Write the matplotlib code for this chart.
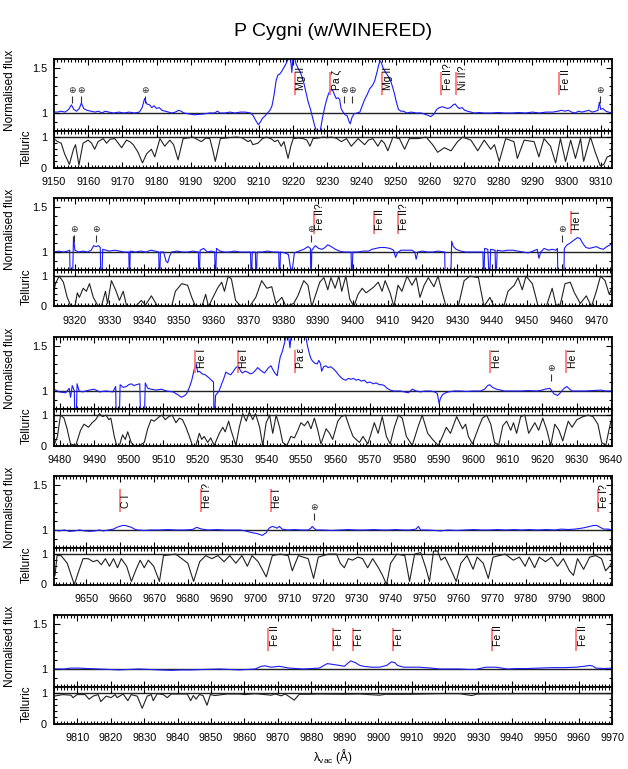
import matplotlib
matplotlib.use('Agg')
import matplotlib.pyplot as plt
from matplotlib.ticker import MultipleLocator

plt.rcParams['font.family'] = ['Liberation Sans', 'DejaVu Sans']
plt.rcParams['mathtext.fontset'] = 'custom'
plt.rcParams['mathtext.rm'] = 'Liberation Sans'

# wavelength ranges of the five rows (Angstrom, vacuum)
ranges = [(9150.0, 9313.3), (9314.1, 9474.5), (9478.3, 9640.3), (9640.4, 9805.5), (9803.0, 9970.0)]

# (wavelength, normalised flux)
p1_flux = [(9149.7, 1.01), (9151.0, 1.01), (9152.0, 1.02), (9153.2, 1.01), (9154.3, 1.04), (9155.1, 1.09),
           (9155.8, 1.04), (9156.6, 1.02), (9157.4, 1.05), (9158.0, 1.11), (9158.7, 1.05), (9159.6, 1.03),
           (9160.8, 1.02), (9162.0, 1.01), (9163.0, 1.02), (9164.0, 1.0), (9165.0, 1.02), (9166.0, 1.01),
           (9167.5, 1.0), (9169.0, 1.01), (9170.5, 1.0), (9172.0, 1.01), (9173.5, 1.0), (9175.0, 1.01),
           (9175.8, 1.06), (9176.5, 1.16), (9177.2, 1.10), (9178.0, 1.09), (9178.6, 1.06), (9179.3, 1.08),
           (9180.0, 1.05), (9180.8, 1.06), (9181.6, 1.03), (9182.5, 1.02), (9183.5, 1.01), (9184.5, 1.0),
           (9185.5, 1.01), (9186.5, 1.03), (9187.2, 1.02), (9188.0, 1.0), (9189.5, 0.99), (9191.0, 0.98),
           (9192.5, 0.985), (9194.0, 0.99), (9195.5, 1.0), (9197.0, 1.0), (9197.8, 1.02), (9198.6, 1.0),
           (9200.0, 1.0), (9201.5, 1.01), (9203.0, 1.0), (9204.5, 1.01), (9206.0, 1.01), (9207.5, 1.0),
           (9208.3, 0.97), (9209.0, 0.92), (9209.8, 0.87), (9210.4, 0.9), (9211.0, 0.94), (9211.8, 0.97),
           (9212.5, 1.0), (9213.2, 1.03), (9213.8, 1.08), (9214.4, 1.2), (9215.0, 1.36), (9215.5, 1.42),
           (9216.0, 1.43), (9216.6, 1.46), (9217.2, 1.5), (9217.8, 1.54), (9218.3, 1.58), (9218.8, 1.63),
           (9219.2, 1.62), (9219.6, 1.45), (9219.9, 1.6), (9220.3, 1.63), (9220.8, 1.55), (9221.4, 1.5),
           (9222.0, 1.46), (9222.6, 1.4), (9223.2, 1.32), (9223.8, 1.22), (9224.4, 1.12), (9225.0, 1.05),
           (9225.6, 0.96), (9226.2, 0.87), (9226.8, 0.8), (9227.4, 0.76), (9228.0, 0.82), (9228.6, 0.95),
           (9229.2, 1.06), (9229.8, 1.15), (9230.4, 1.22), (9231.0, 1.26), (9231.6, 1.25), (9232.1, 1.2),
           (9232.6, 1.16), (9233.1, 1.17), (9233.6, 1.15), (9234.0, 1.05), (9234.6, 1.01), (9235.2, 0.98),
           (9235.8, 0.97), (9236.3, 0.91), (9236.7, 0.88), (9237.2, 0.95), (9237.8, 0.99), (9238.6, 1.0),
           (9239.5, 1.01), (9240.2, 1.08), (9240.9, 1.15), (9241.6, 1.2), (9242.4, 1.27), (9243.1, 1.3),
           (9243.8, 1.35), (9244.5, 1.45), (9245.0, 1.53), (9245.4, 1.58), (9245.8, 1.56), (9246.3, 1.5),
           (9246.9, 1.46), (9247.6, 1.42), (9248.3, 1.38), (9249.0, 1.3), (9249.6, 1.22), (9250.2, 1.12),
           (9250.8, 1.04), (9251.5, 1.02), (9252.3, 1.02), (9253.2, 1.0), (9254.5, 1.01), (9256.0, 1.0),
           (9257.5, 1.0), (9259.0, 0.98), (9260.3, 0.96), (9261.2, 0.99), (9262.0, 1.04), (9262.8, 1.06),
           (9263.6, 1.07), (9264.4, 1.06), (9265.2, 1.05), (9266.0, 1.06), (9266.8, 1.09), (9267.4, 1.1),
           (9268.0, 1.07), (9268.6, 1.05), (9269.4, 1.06), (9270.2, 1.03), (9271.0, 1.02), (9272.0, 1.01),
           (9273.0, 1.0), (9274.5, 1.005), (9276.0, 1.0), (9278.0, 1.0), (9280.0, 1.005), (9282.0, 1.0),
           (9284.0, 1.0), (9286.0, 1.005), (9288.0, 1.0), (9290.0, 1.01), (9292.0, 1.0), (9294.0, 1.01),
           (9296.0, 1.01), (9297.5, 1.02), (9298.5, 1.03), (9299.5, 1.02), (9300.5, 1.03), (9301.5, 1.01),
           (9302.5, 1.0), (9303.5, 1.02), (9304.5, 1.01), (9305.5, 1.02), (9306.5, 1.03), (9307.5, 1.01),
           (9308.5, 1.02), (9309.2, 1.03), (9309.6, 1.12), (9310.0, 1.04), (9310.6, 1.05), (9311.5, 1.02),
           (9312.3, 1.01), (9313.3, 1.0)]

p2_flux = [(9314.1, 1.0), (9315.5, 1.01), (9316.8, 1.0), (9318.0, 1.01), (9318.6, 1.02), (9318.8, 0.6),
           (9319.4, 0.6), (9319.7, 1.17), (9320.1, 1.02), (9321.2, 1.0), (9322.5, 1.01), (9323.7, 1.0),
           (9324.8, 1.02), (9325.5, 1.07), (9326.2, 1.06), (9326.9, 1.07), (9327.4, 1.05), (9327.6, 0.6),
           (9327.8, 0.6), (9328.1, 1.03), (9329.0, 1.02), (9330.0, 1.01), (9331.5, 1.02), (9332.9, 1.01),
           (9334.3, 1.0), (9335.6, 1.0), (9335.8, 0.6), (9336.0, 1.01), (9337.5, 1.0), (9339.0, 1.01),
           (9340.5, 1.0), (9342.0, 1.02), (9343.2, 1.01), (9344.2, 1.0), (9344.4, 0.6), (9344.7, 1.0),
           (9345.6, 1.0), (9346.3, 0.9), (9346.8, 0.88), (9347.3, 0.95), (9347.9, 1.0), (9349.5, 1.01),
           (9351.0, 1.0), (9352.5, 1.0), (9354.0, 1.01), (9355.6, 1.0), (9355.8, 0.6), (9356.1, 1.02),
           (9357.1, 1.04), (9358.2, 1.0), (9359.3, 1.01), (9360.3, 1.0), (9360.5, 0.6), (9360.8, 1.04),
           (9361.8, 1.01), (9363.0, 1.0), (9364.5, 1.0), (9366.0, 1.01), (9367.5, 1.0), (9369.0, 1.0),
           (9370.6, 1.0), (9370.8, 0.6), (9371.1, 1.0), (9372.0, 1.0), (9372.2, 0.6), (9372.5, 1.0),
           (9374.0, 1.0), (9375.5, 1.01), (9377.0, 1.0), (9378.7, 1.0), (9378.9, 0.6), (9379.2, 1.0),
           (9380.5, 0.99), (9381.5, 0.97), (9382.1, 0.82), (9382.6, 0.8), (9383.2, 0.99), (9384.5, 1.01),
           (9385.9, 1.03), (9387.1, 1.06), (9387.8, 1.04), (9388.0, 0.6), (9388.2, 1.02), (9389.2, 1.07),
           (9390.2, 1.04), (9391.2, 1.03), (9392.0, 1.05), (9392.8, 1.08), (9393.8, 1.06), (9395.0, 1.03),
           (9396.2, 1.01), (9397.4, 1.0), (9398.5, 1.0), (9399.5, 1.0), (9399.7, 0.6), (9400.0, 1.0),
           (9401.5, 1.0), (9403.0, 1.01), (9404.5, 1.01), (9405.5, 1.03), (9406.6, 1.04), (9407.8, 1.05),
           (9409.2, 1.05), (9410.7, 1.04), (9411.7, 1.02), (9412.3, 0.94), (9412.8, 0.99), (9413.8, 1.02),
           (9415.5, 1.02), (9417.0, 1.02), (9417.8, 1.0), (9418.2, 0.92), (9418.7, 1.0), (9420.0, 1.01),
           (9421.5, 1.0), (9423.0, 1.0), (9424.5, 1.01), (9426.4, 1.0), (9426.6, 0.6), (9428.1, 0.6),
           (9428.4, 1.12), (9428.9, 1.06), (9429.7, 1.03), (9431.0, 1.01), (9432.5, 1.0), (9434.0, 1.0),
           (9435.8, 1.0), (9437.4, 1.0), (9437.6, 0.6), (9437.9, 1.04), (9438.8, 1.03), (9439.3, 0.6),
           (9439.6, 1.03), (9440.9, 1.02), (9441.1, 0.6), (9441.5, 1.02), (9443.0, 1.01), (9444.5, 1.02),
           (9446.0, 1.02), (9447.5, 1.01), (9449.0, 1.0), (9450.4, 0.99), (9451.8, 1.01), (9453.0, 1.03),
           (9453.5, 0.93), (9454.0, 1.0), (9455.0, 1.04), (9456.2, 1.02), (9457.3, 1.03), (9458.4, 1.02),
           (9458.8, 1.04), (9459.0, 0.6), (9460.6, 0.6), (9460.8, 1.04), (9461.6, 1.08), (9462.5, 1.1),
           (9463.5, 1.13), (9464.6, 1.16), (9465.3, 1.15), (9466.2, 1.09), (9467.0, 1.05), (9468.0, 1.04),
           (9469.0, 1.05), (9470.0, 1.06), (9471.0, 1.04), (9472.0, 1.03), (9473.0, 1.06), (9474.5, 1.09)]

p3_flux = [(9478.3, 1.02), (9479.8, 0.99), (9481.7, 0.98), (9482.7, 1.03), (9483.1, 0.93), (9483.6, 1.06),
           (9484.2, 1.0), (9484.4, 0.6), (9484.7, 0.6), (9485.0, 1.08), (9485.6, 1.0), (9486.6, 0.99),
           (9488.5, 1.01), (9490.0, 1.02), (9491.5, 0.99), (9493.4, 1.0), (9495.4, 0.99), (9496.2, 1.05),
           (9496.4, 0.6), (9497.2, 0.6), (9497.5, 1.07), (9498.4, 1.04), (9499.3, 1.05), (9500.0, 1.07),
           (9500.7, 1.08), (9501.5, 1.06), (9502.2, 1.07), (9503.2, 1.08), (9503.5, 0.6), (9504.5, 0.6),
           (9504.8, 1.09), (9505.5, 1.03), (9506.5, 1.02), (9508.0, 1.01), (9509.5, 1.02), (9511.0, 1.0),
           (9512.9, 0.99), (9514.2, 0.96), (9515.3, 0.93), (9516.3, 0.95), (9516.8, 0.97), (9517.6, 1.04),
           (9518.3, 1.12), (9519.0, 1.24), (9519.6, 1.3), (9520.0, 1.21), (9520.5, 1.22), (9521.3, 1.19),
           (9522.2, 1.18), (9523.2, 1.15), (9524.0, 1.12), (9524.6, 1.1), (9524.8, 0.6), (9525.2, 0.95),
           (9526.2, 1.0), (9527.0, 1.08), (9527.6, 1.14), (9528.2, 1.21), (9529.0, 1.19), (9529.6, 1.18),
           (9530.4, 1.22), (9531.1, 1.26), (9531.8, 1.28), (9532.5, 1.22), (9533.0, 1.2), (9533.8, 1.22),
           (9534.5, 1.21), (9535.3, 1.19), (9536.0, 1.2), (9536.8, 1.23), (9537.4, 1.26), (9538.0, 1.24),
           (9538.6, 1.22), (9539.4, 1.2), (9540.0, 1.23), (9540.6, 1.26), (9541.3, 1.28), (9541.8, 1.24),
           (9542.4, 1.2), (9543.1, 1.17), (9543.6, 1.3), (9544.0, 1.38), (9544.6, 1.44), (9545.0, 1.5),
           (9545.4, 1.56), (9545.8, 1.63), (9546.4, 1.62), (9546.8, 1.48), (9547.2, 1.63), (9551.3, 1.63),
           (9551.9, 1.5), (9552.4, 1.42), (9552.9, 1.36), (9553.4, 1.33), (9554.0, 1.31), (9554.7, 1.3),
           (9555.2, 1.34), (9555.7, 1.3), (9556.0, 1.22), (9556.6, 1.27), (9557.2, 1.28), (9557.9, 1.26),
           (9558.6, 1.27), (9559.3, 1.25), (9560.1, 1.22), (9560.9, 1.18), (9561.6, 1.15), (9562.3, 1.13),
           (9563.0, 1.12), (9563.8, 1.14), (9564.5, 1.13), (9565.2, 1.14), (9566.0, 1.12), (9566.7, 1.13),
           (9567.5, 1.11), (9568.4, 1.12), (9569.2, 1.09), (9570.0, 1.1), (9571.0, 1.08), (9571.8, 1.09),
           (9572.8, 1.07), (9573.5, 1.07), (9574.2, 1.06), (9575.0, 1.03), (9575.9, 1.01), (9577.0, 1.0),
           (9578.8, 1.0), (9580.0, 0.99), (9581.2, 0.98), (9582.3, 1.02), (9583.5, 1.0), (9584.7, 0.99),
           (9586.0, 1.0), (9587.6, 1.0), (9588.8, 0.99), (9589.6, 0.97), (9590.1, 0.86), (9590.5, 0.92),
           (9591.1, 0.96), (9592.0, 0.98), (9592.8, 0.99), (9594.5, 1.0), (9596.3, 1.0), (9598.0, 0.995),
           (9600.0, 1.0), (9602.1, 1.0), (9603.3, 1.02), (9604.2, 1.06), (9604.8, 1.07), (9605.6, 1.04),
           (9606.8, 1.02), (9608.0, 1.01), (9609.1, 1.0), (9611.0, 1.0), (9613.8, 1.0), (9616.0, 1.005),
           (9618.5, 1.0), (9620.0, 1.01), (9620.8, 1.02), (9622.2, 1.03), (9622.9, 1.0), (9623.4, 0.97),
           (9624.5, 0.95), (9625.5, 0.99), (9626.4, 1.03), (9627.2, 1.05), (9628.0, 1.02), (9628.7, 1.0),
           (9630.5, 1.0), (9632.4, 1.0), (9634.5, 1.005), (9637.1, 1.01), (9638.5, 1.0), (9640.3, 1.0)]

p4_flux = [(9640.4, 1.0), (9641.9, 0.99), (9643.5, 1.0), (9645.0, 0.985), (9646.5, 0.99), (9647.9, 1.0),
           (9649.5, 0.99), (9651.0, 0.985), (9652.5, 0.99), (9653.8, 1.0), (9655.0, 0.99), (9656.5, 1.0),
           (9658.0, 1.01), (9659.0, 1.03), (9659.8, 1.04), (9660.6, 1.05), (9661.5, 1.05), (9662.4, 1.04),
           (9663.3, 1.03), (9664.2, 1.01), (9665.1, 1.0), (9667.0, 0.995), (9669.0, 1.0), (9671.6, 1.0),
           (9674.0, 1.005), (9676.5, 1.0), (9679.0, 1.0), (9681.0, 1.005), (9681.7, 1.01), (9682.6, 1.03),
           (9683.3, 1.02), (9684.1, 1.01), (9686.0, 1.0), (9688.5, 1.005), (9691.0, 1.0), (9693.5, 1.0),
           (9695.4, 1.0), (9697.0, 0.99), (9699.0, 0.97), (9700.5, 0.96), (9702.0, 0.94), (9703.2, 0.97),
           (9704.0, 1.02), (9705.0, 1.04), (9705.8, 1.03), (9706.4, 1.02), (9707.1, 1.04), (9707.9, 1.01),
           (9709.5, 1.0), (9711.5, 1.005), (9713.5, 1.0), (9715.6, 1.0), (9716.4, 1.02), (9716.8, 1.04),
           (9717.3, 1.02), (9718.0, 1.0), (9720.0, 1.0), (9722.5, 0.995), (9725.1, 1.0), (9727.5, 1.005),
           (9730.0, 1.0), (9732.5, 1.0), (9735.0, 1.005), (9737.5, 1.0), (9739.4, 1.0), (9741.5, 1.005),
           (9743.5, 1.0), (9745.5, 1.0), (9747.5, 1.01), (9748.2, 1.04), (9748.9, 1.0), (9751.0, 1.0),
           (9753.0, 0.995), (9754.9, 0.99), (9757.0, 1.0), (9759.5, 0.995), (9762.0, 1.0), (9764.5, 1.005),
           (9766.8, 1.0), (9769.0, 1.0), (9771.5, 1.005), (9774.0, 1.0), (9776.5, 1.005), (9778.7, 1.0),
           (9781.0, 1.005), (9783.5, 1.0), (9786.0, 1.005), (9788.5, 1.0), (9790.5, 1.01), (9792.5, 1.005),
           (9794.5, 1.01), (9796.5, 1.02), (9797.8, 1.03), (9798.9, 1.04), (9800.0, 1.05), (9801.0, 1.05),
           (9802.0, 1.03), (9803.0, 1.01), (9804.5, 1.01), (9805.5, 1.0)]

p5_flux = [(9803.0, 1.0), (9806.0, 1.0), (9808.0, 1.01), (9810.5, 1.01), (9813.0, 1.005), (9816.5, 1.0),
           (9819.5, 0.995), (9822.5, 0.99), (9825.5, 0.995), (9828.5, 1.0), (9831.5, 0.995), (9834.5, 0.99),
           (9838.1, 0.985), (9841.0, 0.99), (9844.1, 0.99), (9848.0, 0.995), (9852.4, 1.0), (9855.5, 0.995),
           (9858.4, 0.99), (9861.0, 0.995), (9863.2, 1.0), (9865.0, 1.03), (9866.2, 1.035), (9868.0, 1.02),
           (9870.4, 1.03), (9873.4, 1.01), (9875.5, 1.005), (9877.6, 1.0), (9880.0, 1.005), (9882.4, 1.01),
           (9883.8, 1.04), (9884.8, 1.06), (9886.6, 1.05), (9888.4, 1.04), (9889.9, 1.03), (9890.8, 1.06),
           (9891.8, 1.09), (9893.2, 1.07), (9894.5, 1.04), (9895.6, 1.03), (9898.0, 1.02), (9900.4, 1.02),
           (9902.6, 1.04), (9904.0, 1.08), (9905.0, 1.07), (9905.8, 1.04), (9907.6, 1.02), (9910.0, 1.02),
           (9912.4, 1.02), (9914.0, 1.015), (9916.0, 1.01), (9918.4, 1.0), (9921.5, 1.0), (9924.4, 1.0),
           (9927.0, 0.995), (9929.2, 0.995), (9931.0, 1.01), (9932.2, 1.02), (9935.2, 1.02), (9937.0, 1.01),
           (9938.8, 1.0), (9941.5, 1.005), (9944.8, 1.005), (9948.0, 1.01), (9952.0, 1.015), (9955.5, 1.015),
           (9959.2, 1.02), (9961.6, 1.03), (9963.4, 1.04), (9964.4, 1.03), (9965.2, 1.01), (9967.5, 1.005),
           (9970.0, 1.01)]

# (wavelength, telluric transmission)
p1_tel = [(9149.7, 0.95), (9150.5, 0.9), (9151.1, 0.85), (9152.1, 0.8), (9153.1, 0.45), (9154.5, 0.1),
          (9155.7, 0.6), (9156.3, 0.75), (9157.3, 0.08), (9158.5, 0.8), (9160.0, 0.9), (9161.0, 0.8),
          (9161.9, 0.6), (9162.9, 0.85), (9164.4, 0.95), (9165.4, 0.8), (9166.4, 0.93), (9167.8, 0.95),
          (9169.8, 0.65), (9171.2, 0.9), (9172.2, 0.85), (9173.2, 0.75), (9174.6, 0.5), (9175.9, 0.15),
          (9177.1, 0.45), (9178.5, 0.6), (9179.5, 0.35), (9181.0, 0.95), (9182.4, 0.7), (9183.9, 0.9),
          (9185.0, 0.75), (9186.3, 0.25), (9187.8, 0.95), (9189.0, 0.97), (9190.7, 1.0), (9193.1, 0.85),
          (9194.5, 0.97), (9195.6, 0.95), (9196.4, 0.6), (9197.2, 0.2), (9198.0, 0.6), (9198.7, 0.95),
          (9201.0, 0.98), (9203.4, 1.0), (9205.0, 0.98), (9206.8, 0.85), (9207.5, 0.9), (9208.2, 0.75),
          (9209.7, 0.8), (9211.0, 0.95), (9212.1, 1.0), (9213.5, 0.95), (9214.6, 0.85), (9215.5, 0.9),
          (9216.5, 0.7), (9217.3, 0.85), (9218.5, 0.3), (9219.3, 0.7), (9220.0, 0.95), (9221.5, 0.97),
          (9222.9, 0.95), (9224.0, 0.9), (9224.9, 0.7), (9225.8, 0.95), (9227.3, 0.97), (9228.8, 1.0),
          (9230.0, 0.98), (9231.2, 1.0), (9232.5, 0.97), (9234.1, 0.85), (9235.6, 0.95), (9237.0, 0.7),
          (9239.0, 0.95), (9240.9, 0.75), (9242.0, 0.9), (9243.3, 0.95), (9244.8, 0.7), (9245.8, 0.9),
          (9246.7, 0.8), (9247.7, 0.55), (9249.2, 1.0), (9251.1, 0.95), (9252.6, 0.6), (9254.0, 0.95),
          (9256.5, 0.95), (9258.9, 1.0), (9260.8, 0.75), (9262.3, 0.5), (9264.2, 0.65), (9265.2, 0.6),
          (9266.2, 0.55), (9268.1, 0.85), (9269.6, 1.0), (9272.0, 0.9), (9274.0, 0.55), (9275.9, 0.9),
          (9277.8, 0.6), (9278.9, 0.75), (9280.3, 0.2), (9281.3, 0.6), (9282.2, 0.95), (9284.6, 0.85),
          (9285.6, 0.3), (9287.6, 0.9), (9290.5, 0.85), (9291.9, 0.35), (9293.4, 0.95), (9295.3, 0.7),
          (9296.8, 0.15), (9298.2, 0.95), (9299.7, 0.2), (9301.2, 0.9), (9302.6, 0.3), (9304.1, 0.95),
          (9305.0, 0.2), (9307.0, 1.0), (9308.4, 0.5), (9309.9, 0.05), (9310.9, 0.1), (9311.9, 0.35),
          (9313.3, 0.4)]

p2_tel = [(9314.1, 0.5), (9314.5, 0.75), (9315.6, 1.0), (9316.8, 0.8), (9317.9, 0.3), (9319.0, 0.0),
          (9320.2, 0.05), (9320.8, 0.45), (9321.4, 0.3), (9322.5, 0.6), (9323.4, 0.5), (9324.3, 0.75),
          (9325.4, 0.3), (9326.6, 0.05), (9327.7, 0.0), (9328.9, 0.5), (9329.5, 0.1), (9330.6, 0.85),
          (9331.8, 0.55), (9332.9, 0.2), (9334.0, 0.5), (9335.0, 0.0), (9337.5, 0.0), (9339.2, 0.2),
          (9340.4, 0.05), (9342.1, 0.35), (9343.9, 0.0), (9347.9, 0.0), (9349.0, 0.5), (9350.8, 0.75),
          (9352.5, 0.7), (9353.7, 0.3), (9354.8, 0.0), (9356.6, 0.0), (9357.7, 0.4), (9358.5, 0.0),
          (9361.1, 0.6), (9362.3, 0.8), (9363.1, 0.5), (9364.2, 1.0), (9365.1, 0.9), (9366.3, 0.2),
          (9367.5, 0.05), (9368.9, 0.0), (9370.3, 0.0), (9372.1, 0.3), (9373.8, 0.85), (9375.3, 0.6),
          (9376.7, 0.65), (9377.9, 0.1), (9379.6, 0.3), (9380.8, 0.0), (9383.0, 0.1), (9384.2, 0.35),
          (9385.9, 0.85), (9387.1, 0.7), (9388.2, 0.0), (9390.5, 0.8), (9391.7, 0.95), (9392.8, 0.55),
          (9393.7, 0.95), (9394.9, 0.6), (9396.0, 1.0), (9396.8, 0.5), (9398.0, 1.0), (9399.1, 0.25),
          (9400.3, 0.0), (9401.5, 0.4), (9402.7, 0.6), (9403.8, 0.45), (9405.0, 0.55), (9406.1, 0.65),
          (9407.3, 0.8), (9408.4, 0.5), (9409.3, 0.85), (9410.7, 0.45), (9411.8, 0.0), (9413.0, 0.7),
          (9414.1, 0.5), (9415.6, 1.0), (9417.0, 0.7), (9418.2, 0.95), (9419.3, 0.3), (9420.5, 0.7),
          (9421.7, 0.95), (9423.3, 0.65), (9424.5, 1.0), (9425.6, 0.5), (9426.8, 0.0), (9430.3, 0.0),
          (9432.0, 0.85), (9433.7, 1.0), (9436.1, 0.95), (9437.7, 0.0), (9439.4, 0.3), (9440.6, 0.0),
          (9443.5, 0.05), (9444.6, 0.5), (9446.4, 0.7), (9447.5, 0.95), (9448.7, 0.55), (9449.8, 1.0),
          (9451.6, 0.75), (9453.3, 0.0), (9455.6, 0.0), (9457.3, 0.6), (9458.4, 0.05), (9459.6, 0.05),
          (9461.0, 0.75), (9462.5, 0.8), (9463.7, 0.45), (9465.4, 0.1), (9467.1, 0.35), (9468.6, 0.0),
          (9470.0, 0.5), (9471.2, 1.0), (9472.5, 0.85), (9473.7, 0.4), (9474.5, 0.6)]

p3_tel = [(9478.3, 0.0), (9479.3, 0.3), (9480.2, 1.0), (9481.2, 0.9), (9482.1, 0.55), (9483.1, 0.05),
          (9484.6, 0.0), (9486.0, 0.5), (9487.0, 0.7), (9488.3, 0.6), (9489.4, 0.75), (9490.4, 0.85),
          (9491.5, 1.05), (9492.4, 0.95), (9493.4, 1.0), (9494.2, 0.85), (9494.8, 0.9), (9495.8, 0.3),
          (9496.5, 0.0), (9497.3, 0.0), (9498.2, 0.35), (9499.0, 0.2), (9499.7, 0.45), (9500.7, 0.1),
          (9501.6, 0.0), (9503.1, 0.0), (9504.5, 0.1), (9505.5, 0.55), (9506.5, 0.85), (9507.4, 0.8),
          (9508.9, 0.95), (9509.6, 1.0), (9510.6, 0.85), (9511.6, 0.95), (9512.6, 1.0), (9513.7, 0.75),
          (9514.7, 0.9), (9515.6, 0.85), (9516.6, 0.6), (9517.6, 0.3), (9518.5, 0.0), (9519.5, 0.0),
          (9520.5, 0.4), (9521.2, 0.2), (9521.9, 0.3), (9522.9, 0.1), (9523.8, 0.25), (9524.8, 0.0),
          (9526.3, 0.4), (9527.3, 0.6), (9528.0, 0.45), (9529.0, 0.8), (9529.7, 0.5), (9531.1, 0.0),
          (9532.1, 0.6), (9533.1, 1.05), (9534.1, 0.8), (9535.0, 1.1), (9536.0, 0.85), (9536.8, 1.05),
          (9538.0, 0.6), (9538.9, 0.0), (9539.9, 0.75), (9540.9, 1.0), (9541.8, 0.4), (9542.8, 1.0),
          (9543.8, 0.6), (9544.7, 0.1), (9545.9, 0.0), (9547.1, 0.3), (9548.1, 0.25), (9549.1, 0.5),
          (9550.0, 0.75), (9551.0, 0.65), (9552.0, 0.8), (9552.9, 0.55), (9553.9, 0.9), (9554.9, 0.5),
          (9555.8, 0.05), (9557.3, 0.55), (9558.3, 0.4), (9559.2, 0.2), (9560.7, 0.8), (9561.7, 0.95),
          (9562.9, 1.0), (9564.1, 0.6), (9565.1, 0.3), (9566.0, 0.2), (9567.0, 0.1), (9568.0, 0.3),
          (9569.4, 0.05), (9570.1, 0.3), (9571.3, 0.75), (9572.4, 0.4), (9573.6, 0.95), (9574.8, 0.3),
          (9575.9, 0.05), (9577.1, 0.6), (9578.3, 1.0), (9579.4, 0.9), (9580.6, 0.3), (9582.3, 0.0),
          (9584.1, 0.65), (9585.2, 1.0), (9586.8, 0.4), (9588.2, 0.2), (9589.9, 0.0), (9591.1, 0.3),
          (9592.2, 0.6), (9593.4, 0.4), (9595.2, 0.95), (9596.9, 0.55), (9597.8, 0.7), (9598.6, 0.3),
          (9599.8, 0.05), (9601.6, 0.6), (9602.7, 0.9), (9603.9, 1.0), (9605.1, 0.7), (9606.2, 0.1),
          (9607.4, 0.0), (9608.6, 0.65), (9609.7, 0.8), (9610.9, 0.5), (9611.7, 0.75), (9612.6, 0.4),
          (9613.8, 0.95), (9615.0, 1.0), (9616.1, 0.4), (9617.9, 0.75), (9619.0, 0.5), (9620.2, 0.9),
          (9621.4, 0.5), (9622.5, 0.0), (9623.7, 0.7), (9624.9, 0.5), (9626.0, 0.15), (9627.6, 0.8),
          (9628.7, 0.6), (9630.1, 0.85), (9631.9, 0.95), (9633.4, 1.0), (9634.8, 0.95), (9636.2, 0.7),
          (9637.3, 0.1), (9638.5, 0.0), (9639.4, 0.5), (9640.3, 0.95)]

p4_tel = [(9640.4, 0.3), (9640.7, 0.3), (9641.3, 0.95), (9642.5, 0.95), (9644.3, 0.7), (9645.5, 0.3),
          (9646.4, 0.0), (9647.9, 0.5), (9649.0, 0.85), (9650.5, 0.85), (9652.0, 0.75), (9653.2, 0.8),
          (9654.4, 0.65), (9655.6, 0.85), (9656.8, 0.6), (9658.0, 0.85), (9659.2, 0.55), (9660.3, 0.85),
          (9661.9, 0.6), (9663.3, 0.1), (9664.7, 0.5), (9665.9, 0.8), (9667.1, 0.55), (9668.3, 0.8),
          (9669.9, 0.6), (9671.6, 0.1), (9672.8, 0.95), (9676.4, 1.0), (9680.0, 0.7), (9681.7, 0.1),
          (9683.5, 0.75), (9685.3, 0.95), (9687.1, 0.85), (9688.9, 0.95), (9690.7, 0.75), (9692.4, 0.95),
          (9694.2, 0.7), (9696.0, 0.95), (9697.6, 0.6), (9699.0, 0.95), (9700.8, 0.75), (9703.2, 0.25),
          (9705.0, 0.95), (9707.3, 1.0), (9709.7, 0.95), (9710.9, 0.45), (9712.7, 0.95), (9715.6, 0.85),
          (9717.2, 0.2), (9718.6, 0.9), (9721.6, 1.0), (9724.0, 1.0), (9725.1, 0.7), (9726.3, 0.55),
          (9727.5, 0.85), (9728.7, 0.8), (9730.3, 0.9), (9731.7, 0.85), (9733.2, 0.55), (9734.7, 0.85),
          (9736.4, 0.55), (9737.6, 0.3), (9738.8, 0.0), (9740.0, 0.7), (9741.8, 1.0), (9744.2, 0.95),
          (9745.6, 0.1), (9747.1, 1.0), (9748.9, 1.05), (9750.4, 0.55), (9751.5, 0.1), (9752.7, 1.1),
          (9753.9, 1.1), (9754.9, 0.8), (9756.1, 0.9), (9757.8, 0.5), (9759.4, 0.1), (9760.8, 0.7),
          (9762.6, 0.95), (9764.4, 0.5), (9765.6, 0.9), (9767.4, 0.7), (9768.9, 0.2), (9770.3, 0.9),
          (9773.9, 1.0), (9776.3, 0.8), (9778.1, 0.9), (9779.8, 0.6), (9781.0, 0.9), (9782.6, 0.55),
          (9784.0, 0.9), (9785.8, 0.75), (9787.6, 0.9), (9789.4, 0.6), (9791.1, 0.85), (9792.9, 0.45),
          (9794.1, 0.3), (9795.3, 0.85), (9797.1, 0.5), (9798.9, 0.9), (9800.7, 0.95), (9802.4, 0.85),
          (9803.6, 0.45), (9804.8, 0.6), (9805.5, 0.75)]

p5_tel = [(9803.0, 0.9), (9805.7, 0.95), (9808.1, 0.93), (9808.7, 0.85), (9809.9, 0.95), (9812.3, 0.95),
          (9813.5, 0.8), (9814.7, 0.9), (9816.2, 0.95), (9817.0, 0.72), (9818.6, 0.9), (9820.1, 0.85),
          (9821.3, 0.95), (9821.9, 0.85), (9823.7, 0.97), (9825.1, 0.75), (9826.1, 0.95), (9827.9, 0.9),
          (9829.4, 0.5), (9830.9, 0.9), (9832.1, 0.95), (9832.7, 0.75), (9833.9, 0.98), (9835.7, 0.95),
          (9836.9, 0.85), (9838.1, 0.97), (9842.9, 0.97), (9843.9, 0.75), (9844.7, 0.92), (9845.5, 0.8),
          (9846.5, 0.95), (9847.6, 0.92), (9848.8, 0.6), (9849.8, 0.95), (9851.2, 0.92), (9854.8, 0.97),
          (9858.4, 0.97), (9860.2, 0.95), (9863.2, 0.98), (9866.2, 0.95), (9868.0, 0.93), (9869.2, 0.97),
          (9871.0, 0.91), (9872.2, 0.97), (9874.9, 0.77), (9876.4, 0.96), (9879.4, 0.96), (9882.4, 0.97),
          (9889.6, 0.96), (9894.4, 0.97), (9900.4, 0.93), (9902.2, 0.96), (9910.0, 0.96), (9918.4, 0.98),
          (9924.4, 0.98), (9928.0, 0.92), (9929.8, 0.97), (9942.4, 0.98), (9956.8, 0.98), (9970.0, 0.98)]

# identified lines (wavelength, label)
p1_lines = [(9220.4, 'Mg II'), (9230.8, 'Pa ζ'), (9245.9, 'Mg II'), (9263.3, 'Fe II?'), (9267.7, 'Ni II?'), (9297.9, 'Fe II')]
p2_lines = [(9388.8, 'Fe II?'), (9406.1, 'Fe II'), (9413.0, 'Fe II?'), (9462.7, 'He I')]
p3_lines = [(9519.3, 'He I'), (9531.7, 'He I'), (9548.3, 'Pa ε'), (9605.0, 'He I'), (9627.0, 'He I')]
p4_lines = [(9659.8, 'C I'), (9683.8, 'He I?'), (9704.5, 'He I'), (9801.3, 'Fe I?')]
p5_lines = [(9867.1, 'Fe II'), (9886.5, 'Fe I'), (9892.5, 'Fe I'), (9904.5, 'Fe I'), (9934.1, 'Fe II'), (9959.3, 'Fe II')]

# telluric residual markers
p1_earth = [9155.2, 9157.9, 9176.6, 9235.0, 9237.3, 9309.8]
p2_earth = [9319.9, 9326.3, 9387.9, 9460.0]
p3_earth = [9622.5]
p4_earth = [9717.2]
p5_earth = []

panels = [
    (p1_flux, p1_tel, p1_lines, p1_earth),
    (p2_flux, p2_tel, p2_lines, p2_earth),
    (p3_flux, p3_tel, p3_lines, p3_earth),
    (p4_flux, p4_tel, p4_lines, p4_earth),
    (p5_flux, p5_tel, p5_lines, p5_earth),
]

W, H = 628, 769
fig = plt.figure(figsize=(W / 100, H / 100), dpi=100)


def box(top, bottom):
    return [54 / W, 1 - bottom / H, (612 - 54) / W, (bottom - top) / H]


def style(ax):
    for s in ax.spines.values():
        s.set_linewidth(1.3)
    ax.xaxis.set_major_locator(MultipleLocator(10))
    ax.xaxis.set_minor_locator(MultipleLocator(1))
    ax.tick_params(which='both', direction='in', top=True, right=True, labelsize=7.8, width=0.8)
    ax.tick_params(which='major', length=4.5)
    ax.tick_params(which='minor', length=2.2)


for k, (flux, tel, lines, earth) in enumerate(panels):
    dy = 139 * k
    lo, hi = ranges[k]

    axf = fig.add_axes(box(59 + dy, 131 + dy))
    axt = fig.add_axes(box(131 + dy, 167.5 + dy))

    # flux panel
    axf.axhline(1, color='#222222', lw=1.0, zorder=1)
    axf.plot([p[0] for p in flux], [p[1] for p in flux], color='#1a1aff', lw=0.8, zorder=2)
    axf.set_xlim(lo, hi)
    axf.set_ylim(0.8, 1.6)
    style(axf)
    axf.set_yticks([1.0, 1.5])
    axf.set_yticklabels(['1', '1.5'])
    axf.yaxis.set_minor_locator(MultipleLocator(0.1))
    axf.tick_params(axis='x', labelbottom=False)
    axf.tick_params(axis='y', pad=5)

    for lam, name in lines:
        axf.vlines(lam, 1.2, 1.46, color='#ff6b6b', lw=1.2, zorder=3)
        axf.text(lam + 0.4, 1.25, name, rotation=90, ha='left', va='bottom', fontsize=7.5, zorder=4)
    for lam in earth:
        axf.vlines(lam, 1.11, 1.19, color='#333333', lw=0.8, zorder=3)
        axf.text(lam, 1.255, '⊕', ha='center', va='center', fontsize=6.6, color='#333333',
                 family=['DejaVu Sans'], zorder=4)

    # telluric panel
    axt.axhline(1, color='#222222', lw=1.0, zorder=1)
    axt.plot([p[0] for p in tel], [p[1] for p in tel], color='#222222', lw=0.8, zorder=2)
    axt.set_xlim(lo, hi)
    axt.set_ylim(0, 1.2)
    style(axt)
    axt.set_yticks([0, 1])
    axt.set_yticklabels(['0', '1'])
    axt.yaxis.set_minor_locator(MultipleLocator(0.2))
    axt.tick_params(axis='x', pad=7)
    axt.tick_params(axis='y', pad=5)

    fig.text(10 / W, 1 - (90 + dy) / H, 'Normalised flux', rotation=90, ha='center', va='center', fontsize=8.5)
    fig.text(27 / W, 1 - (148 + dy) / H, 'Telluric', rotation=90, ha='center', va='center', fontsize=8.5)

fig.text(333 / W, 1 - 32 / H, 'P Cygni (w/WINERED)', ha='center', va='center', fontsize=14)
fig.text(333 / W, 1 - 757 / H, r'$\mathregular{\lambda_{vac}}$ (Å)', ha='center', va='center', fontsize=8.5)

fig.savefig('out.png', dpi=100)
